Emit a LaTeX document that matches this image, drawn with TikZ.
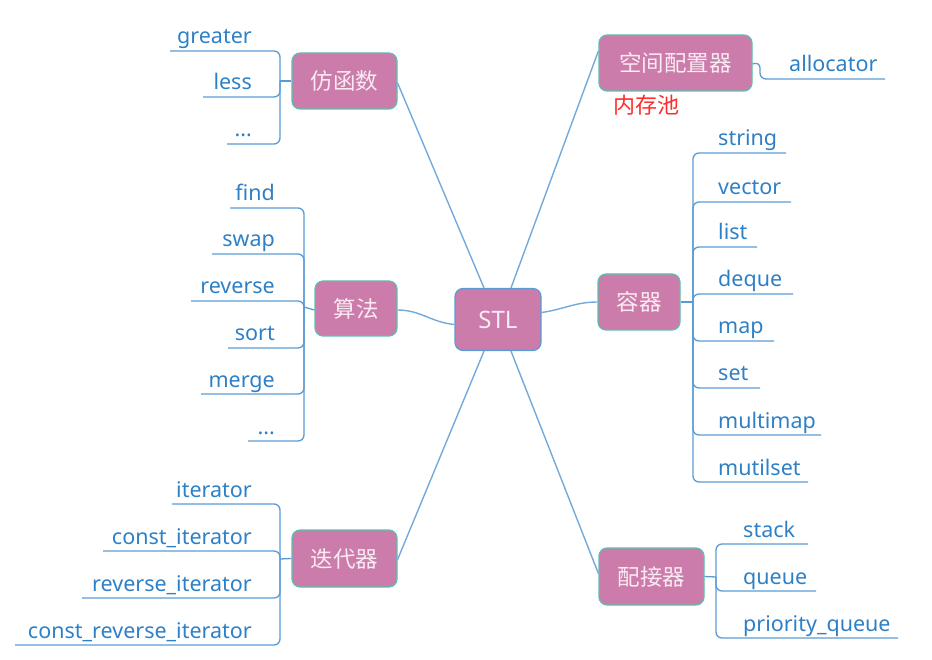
\documentclass[tikz,border=0pt]{standalone}
\usepackage{fontspec}
\setmainfont{Noto Sans}
\newfontfamily\cjk{Noto Sans CJK SC}
\newcommand\mydots{...}
\definecolor{nodefill}{HTML}{CC7CAA}
\definecolor{bordert}{HTML}{5CBFB0}
\definecolor{borderb}{HTML}{5B9BD5}
\definecolor{nodetext}{HTML}{FAEAF3}
\definecolor{leafblue}{HTML}{2E80C6}
\definecolor{linecol}{HTML}{5B9BD5}
\definecolor{redtext}{HTML}{FF2A2A}
\tikzset{
  mainbox/.style={draw=bordert, fill=nodefill, line width=1.2pt, rounded corners=8pt,
    inner sep=0pt, text=nodetext, font=\cjk\fontsize{22.5}{26}\selectfont},
  leaf/.style={text=leafblue, inner sep=0pt, font=\fontsize{21.5}{24}\selectfont},
  leafline/.style={draw=linecol, line width=1.3pt, rounded corners=6pt},
  mainline/.style={draw=linecol!85, line width=1.4pt},
}
\begin{document}
\begin{tikzpicture}[x=1pt,y=-1pt]
\useasboundingbox (0,0) rectangle (932,660);

% main nodes
\node[mainbox, draw=borderb, minimum width=86pt, minimum height=62pt,
      font=\fontsize{24}{28}\selectfont] (stl) at (498,319.5) {STL};
\node[mainbox, minimum width=105pt, minimum height=56pt] (fh) at (344.5,81) {仿函数};
\node[mainbox, minimum width=153pt, minimum height=56pt] (kj) at (675.5,63) {空间配置器};
\node[mainbox, minimum width=82pt, minimum height=55pt] (sf) at (356,308.5) {算法};
\node[mainbox, minimum width=82pt, minimum height=56pt] (rq) at (639,302) {容器};
\node[mainbox, minimum width=105pt, minimum height=57pt] (dd) at (344.5,558.5) {迭代器};
\node[mainbox, minimum width=105pt, minimum height=57pt] (pj) at (651.5,576.5) {配接器};
\node[text=redtext, inner sep=0pt, font=\cjk\fontsize{22}{26}\selectfont] (nc) at (646,105) {内存池};

% main connectors
\draw[mainline] ([xshift=-14pt]stl.north) -- ([yshift=-2pt]fh.east);
\draw[mainline] ([xshift=13pt]stl.north) -- ([yshift=12pt]kj.west);
\draw[mainline] ([yshift=-5pt]stl.west) to[out=175,in=0] ([yshift=-1.5pt]sf.east);
\draw[mainline] ([yshift=7pt]stl.east) to[out=8,in=180] (rq.west);
\draw[mainline] ([xshift=-14pt]stl.south) -- ([yshift=-1pt]dd.east);
\draw[mainline] ([xshift=13pt]stl.south) -- ([yshift=3pt]pj.west);

% 仿函数 group
\coordinate (fh-b) at (280,81);
\draw[leafline] (fh.west) -- (fh-b);
\foreach \nm/\txt/\y/\s in {greater/greater/51/170, less/less/97/203, fdots/\mydots/144/227}{
  \node[leaf, anchor=base east] (\nm) at (252,\y-7) {\txt};
  \coordinate (\nm-u) at (\s,\y);
  \draw[leafline] (fh-b) |- (\nm-u);
}

% 算法 group
\coordinate (sf-b) at (304,307);
\draw[leafline] ([yshift=-1.5pt]sf.west) -- (sf-b);
\foreach \nm/\txt/\y/\s in {find/find/208/230, swap/swap/254/212, reverse/reverse/301/191,
    sort/sort/348/228, merge/merge/394/201, sdots/\mydots/441/248}{
  \node[leaf, anchor=base east] (\nm) at (275,\y-7) {\txt};
  \coordinate (\nm-u) at (\s,\y);
  \draw[leafline] (sf-b) |- (\nm-u);
}

% 迭代器 group
\coordinate (dd-b) at (280,559);
\draw[leafline] (dd.west) -- (dd-b);
\foreach \nm/\txt/\y/\s in {it/iterator/504/172, cit/const\_iterator/551/103,
    rit/reverse\_iterator/598/82, crit/const\_reverse\_iterator/645/15}{
  \node[leaf, anchor=base east] (\nm) at (252,\y-7) {\txt};
  \coordinate (\nm-u) at (\s,\y);
  \draw[leafline] (dd-b) |- (\nm-u);
}

% 容器 group
\coordinate (rq-b) at (693,302);
\draw[leafline] (rq.east) -- (rq-b);
\foreach \nm/\txt/\y/\e in {string/string/153/786, vector/vector/202/791, list/list/247/757,
    deque/deque/294/793, map/map/341/774, set/set/388/760, multimap/multimap/435/821,
    mutilset/mutilset/482/808}{
  \node[leaf, anchor=base west] (\nm) at (718,\y-7) {\txt};
  \coordinate (\nm-u) at (\e,\y);
  \draw[leafline] (rq-b) |- (\nm-u);
}

% 配接器 group
\coordinate (pj-b) at (716,577);
\draw[leafline] (pj.east) -- (pj-b);
\foreach \nm/\txt/\y/\e in {stack/stack/544/808, queue/queue/591/816,
    pq/priority\_queue/638/898}{
  \node[leaf, anchor=base west] (\nm) at (743,\y-7) {\txt};
  \coordinate (\nm-u) at (\e,\y);
  \draw[leafline] (pj-b) |- (\nm-u);
}

% allocator
\coordinate (kj-b) at (760,62);
\coordinate (alloc-u) at (885,79);
\draw[leafline] ([yshift=-1pt]kj.east) -- (kj-b) |- (alloc-u);
\node[leaf, anchor=base west] (alloc) at (789,72) {allocator};
\end{tikzpicture}
\end{document}
